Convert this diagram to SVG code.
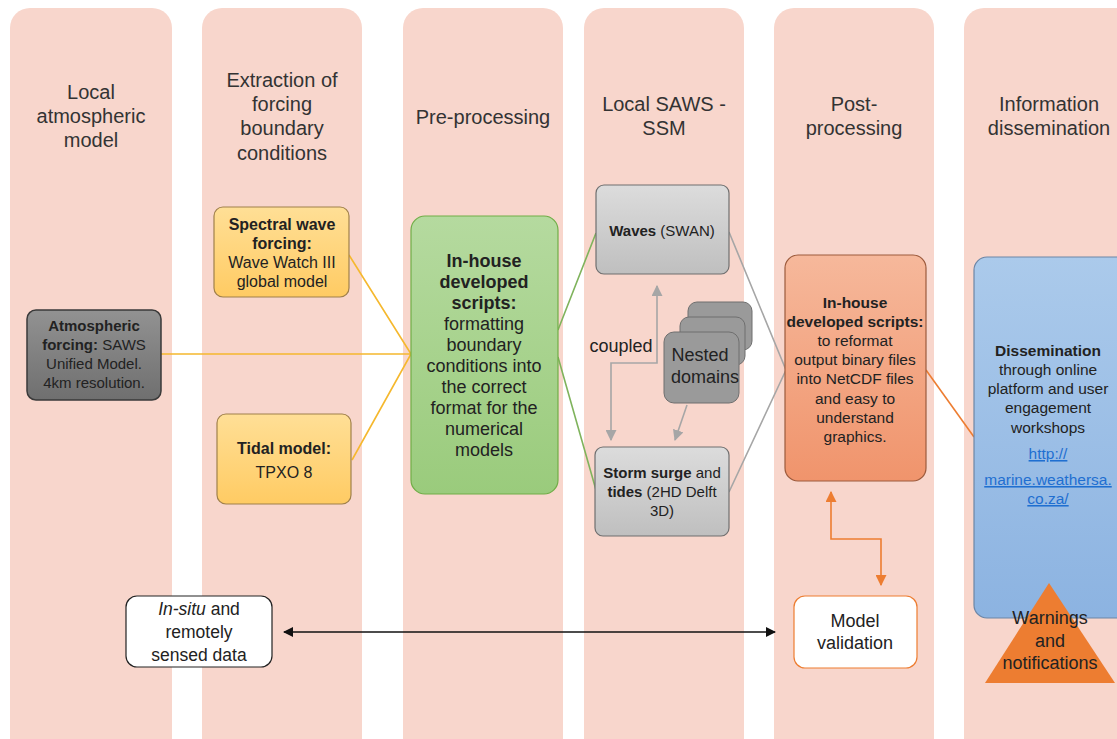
<svg xmlns="http://www.w3.org/2000/svg" width="1117" height="739" viewBox="0 0 1117 739">
<defs>
<style>
.col{fill:#f8d6cc}
.hdr{font-family:"Liberation Sans",Arial,sans-serif;font-size:20px;fill:#333;text-anchor:middle}
.t{font-family:"Liberation Sans",Arial,sans-serif;fill:#222;text-anchor:middle}
.b{font-weight:bold}
.conn{fill:none;stroke-width:1.6}
</style>
<linearGradient id="gGray" x1="0" y1="0" x2="0" y2="1"><stop offset="0" stop-color="#929292"/><stop offset="1" stop-color="#6f6f6f"/></linearGradient>
<linearGradient id="gYel" x1="0" y1="0" x2="0" y2="1"><stop offset="0" stop-color="#ffdf96"/><stop offset="1" stop-color="#ffcb63"/></linearGradient>
<linearGradient id="gGrn" x1="0" y1="0" x2="0" y2="1"><stop offset="0" stop-color="#b5da9f"/><stop offset="1" stop-color="#9acb7c"/></linearGradient>
<linearGradient id="gLG" x1="0" y1="0" x2="0" y2="1"><stop offset="0" stop-color="#dcdcdc"/><stop offset="1" stop-color="#bfbfbf"/></linearGradient>
<linearGradient id="gOr" x1="0" y1="0" x2="0" y2="1"><stop offset="0" stop-color="#f6b89b"/><stop offset="1" stop-color="#f0946c"/></linearGradient>
<linearGradient id="gBl" x1="0" y1="0" x2="0" y2="1"><stop offset="0" stop-color="#abcaeb"/><stop offset="1" stop-color="#8cb3e1"/></linearGradient>
<marker id="aBlk" viewBox="0 0 10 10" refX="9" refY="5" markerWidth="10" markerHeight="10" markerUnits="userSpaceOnUse" orient="auto-start-reverse"><path d="M0,0 L10,5 L0,10 z" fill="#111"/></marker>
<marker id="aGry" viewBox="0 0 10 10" refX="9" refY="5" markerWidth="11" markerHeight="11" markerUnits="userSpaceOnUse" orient="auto-start-reverse"><path d="M0,0 L10,5 L0,10 z" fill="#a6a6a6"/></marker>
<marker id="aOr" viewBox="0 0 10 10" refX="9" refY="5" markerWidth="11" markerHeight="11" markerUnits="userSpaceOnUse" orient="auto-start-reverse"><path d="M0,0 L10,5 L0,10 z" fill="#ed7d31"/></marker>
</defs>
<rect width="1117" height="739" fill="#fff"/>
<g id="columns">
<rect class="col" x="10" y="8" width="162" height="760" rx="20"/>
<rect class="col" x="202" y="8" width="160" height="760" rx="20"/>
<rect class="col" x="403" y="8" width="160" height="760" rx="20"/>
<rect class="col" x="584" y="8" width="160" height="760" rx="20"/>
<rect class="col" x="774" y="8" width="160" height="760" rx="20"/>
<rect class="col" x="964" y="8" width="180" height="760" rx="20"/>
<text class="hdr"><tspan x="91" y="99">Local</tspan><tspan x="91" y="123">atmospheric</tspan><tspan x="91" y="147">model</tspan></text>
<text class="hdr"><tspan x="282" y="87">Extraction of</tspan><tspan x="282" y="111">forcing</tspan><tspan x="282" y="135">boundary</tspan><tspan x="282" y="160">conditions</tspan></text>
<text class="hdr"><tspan x="483" y="124">Pre-processing</tspan></text>
<text class="hdr"><tspan x="664" y="111">Local SAWS -</tspan><tspan x="664" y="135">SSM</tspan></text>
<text class="hdr"><tspan x="854" y="111">Post-</tspan><tspan x="854" y="135">processing</tspan></text>
<text class="hdr"><tspan x="1049" y="111">Information</tspan><tspan x="1049" y="135">dissemination</tspan></text>
</g>
<g id="connectors">
<path class="conn" stroke="#f5b82e" d="M161,354 L411,354 M349,255 L411,354 M352,460 L411,354"/>
<path class="conn" stroke="#7fb35c" d="M558,330 L596,233 M558,357 L596,490"/>
<path class="conn" stroke="#a6a6a6" d="M729,232 L786,370 M729,492 L786,370"/>
<path class="conn" stroke="#ed7d31" d="M926,370 L974,437"/>
<path class="conn" stroke="#a6a6a6" d="M657,286 L657,363 L611,363 L611,440" marker-start="url(#aGry)" marker-end="url(#aGry)"/>
<path class="conn" stroke="#a6a6a6" d="M687,405 L675,440" marker-end="url(#aGry)"/>
<path class="conn" stroke="#ed7d31" d="M831,492 L831,539 L881,539 L881,585" marker-start="url(#aOr)" marker-end="url(#aOr)"/>
<path class="conn" stroke="#111" d="M1049,524 L1049,577" marker-start="url(#aBlk)" marker-end="url(#aBlk)"/>
<path class="conn" stroke="#111" d="M284,632 L775,632" marker-start="url(#aBlk)" marker-end="url(#aBlk)"/>
<text class="t" style="font-size:18px" x="621" y="352">coupled</text>
</g>
<g id="atmospheric">
<rect x="27" y="310" width="134" height="90" rx="9" fill="url(#gGray)" stroke="#3a3a3a" stroke-width="1.5"/>
<text class="t" style="font-size:15px"><tspan x="94" y="331" class="b">Atmospheric</tspan><tspan x="94" y="350"><tspan class="b">forcing:</tspan> SAWS</tspan><tspan x="94" y="369">Unified Model.</tspan><tspan x="94" y="388">4km resolution.</tspan></text>
</g>
<g id="spectral">
<rect x="214" y="207" width="135" height="90" rx="9" fill="url(#gYel)" stroke="#a0804a" stroke-width="1.2"/>
<text class="t" style="font-size:16px"><tspan x="282" y="230" class="b">Spectral wave</tspan><tspan x="282" y="249" class="b">forcing:</tspan><tspan x="282" y="268">Wave Watch III</tspan><tspan x="282" y="287">global model</tspan></text>
</g>
<g id="tidal">
<rect x="217" y="414" width="134" height="90" rx="9" fill="url(#gYel)" stroke="#a0804a" stroke-width="1.2"/>
<text class="t" style="font-size:16px"><tspan x="284" y="454" class="b">Tidal model:</tspan><tspan x="284" y="478">TPXO 8</tspan></text>
</g>
<g id="preprocessing">
<rect x="411" y="216" width="147" height="278" rx="14" fill="url(#gGrn)" stroke="#70ad47" stroke-width="1.2"/>
<text class="t" style="font-size:18px"><tspan x="484" y="267" class="b">In-house</tspan><tspan x="484" y="288" class="b">developed</tspan><tspan x="484" y="309" class="b">scripts:</tspan><tspan x="484" y="330">formatting</tspan><tspan x="484" y="351">boundary</tspan><tspan x="484" y="372">conditions into</tspan><tspan x="484" y="393">the correct</tspan><tspan x="484" y="414">format for the</tspan><tspan x="484" y="435">numerical</tspan><tspan x="484" y="456">models</tspan></text>
</g>
<g id="waves">
<rect x="596" y="185" width="133" height="89" rx="8" fill="url(#gLG)" stroke="#6f6f6f" stroke-width="1.2"/>
<text class="t" style="font-size:15px"><tspan x="662" y="236"><tspan class="b">Waves</tspan> (SWAN)</tspan></text>
</g>
<g id="nested">
<rect x="688" y="302" width="64" height="48" rx="9" fill="#9a9a9a" stroke="#6f6f6f"/>
<rect x="680" y="317" width="65" height="48" rx="9" fill="#9a9a9a" stroke="#6f6f6f"/>
<rect x="664" y="332" width="75" height="71" rx="10" fill="#9a9a9a" stroke="#6f6f6f"/>
<text class="t" style="font-size:18px"><tspan x="700" y="361">Nested</tspan><tspan x="705" y="383">domains</tspan></text>
</g>
<g id="stormsurge">
<rect x="595" y="447" width="134" height="89" rx="8" fill="url(#gLG)" stroke="#6f6f6f" stroke-width="1.2"/>
<text class="t" style="font-size:15px"><tspan x="662" y="478"><tspan class="b">Storm surge</tspan> and</tspan><tspan x="662" y="497"><tspan class="b">tides</tspan> (2HD Delft</tspan><tspan x="662" y="516">3D)</tspan></text>
</g>
<g id="postprocessing">
<rect x="785" y="255" width="141" height="226" rx="13" fill="url(#gOr)" stroke="#9c5a3c" stroke-width="1.2"/>
<text class="t" style="font-size:15.5px"><tspan x="855" y="308" class="b">In-house</tspan><tspan x="855" y="327" class="b">developed scripts:</tspan><tspan x="855" y="346">to reformat</tspan><tspan x="855" y="365">output binary files</tspan><tspan x="855" y="384">into NetCDF files</tspan><tspan x="855" y="404">and easy to</tspan><tspan x="855" y="423">understand</tspan><tspan x="855" y="442">graphics.</tspan></text>
</g>
<g id="dissemination">
<rect x="974" y="257" width="160" height="361" rx="13" fill="url(#gBl)" stroke="#6d86a6" stroke-width="1.2"/>
<text class="t" style="font-size:15.5px"><tspan x="1048" y="356" class="b">Dissemination</tspan><tspan x="1048" y="375">through online</tspan><tspan x="1048" y="394">platform and user</tspan><tspan x="1048" y="413">engagement</tspan><tspan x="1048" y="433">workshops</tspan></text>
<text class="t" style="font-size:15.5px;fill:#1f6fd1;text-decoration:underline"><tspan x="1048" y="459">http://</tspan><tspan x="1048" y="485">marine.weathersa.</tspan><tspan x="1048" y="504">co.za/</tspan></text>
</g>
<g id="warnings">
<path d="M1049,583 L1115,683 L985,683 z" fill="#ed7d31"/>
<text class="t" style="font-size:18px"><tspan x="1050" y="624">Warnings</tspan><tspan x="1050" y="647">and</tspan><tspan x="1050" y="669">notifications</tspan></text>
</g>
<g id="validation">
<rect x="794" y="596" width="123" height="72" rx="11" fill="#fff" stroke="#ed7d31" stroke-width="1.2"/>
<text class="t" style="font-size:18px"><tspan x="855" y="627">Model</tspan><tspan x="855" y="649">validation</tspan></text>
</g>
<g id="insitu">
<rect x="126" y="596" width="146" height="71" rx="11" fill="#fff" stroke="#222" stroke-width="1.2"/>
<text class="t" style="font-size:17.5px"><tspan x="199" y="615"><tspan font-style="italic">In-situ</tspan> and</tspan><tspan x="199" y="638">remotely</tspan><tspan x="199" y="661">sensed data</tspan></text>
</g>
</svg>
